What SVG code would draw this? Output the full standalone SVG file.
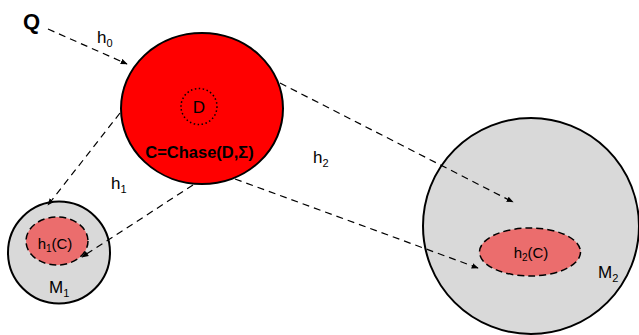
<svg xmlns="http://www.w3.org/2000/svg" width="639" height="335" viewBox="0 0 639 335">
<style>
text{font-family:"Liberation Sans",Arial,sans-serif;fill:#000}
.conn{stroke:#000;stroke-width:1.2;stroke-dasharray:7,5;fill:none}
.outer{stroke:#000;stroke-width:2}
.inner{fill:#eb6d6d;stroke:#000;stroke-width:1.5;stroke-dasharray:7,4}
.lbl{font-size:17px}
.ilbl{font-size:15px}
</style>
<defs>
<marker id="ah" viewBox="0 0 10 10" refX="9" refY="5" markerWidth="7" markerHeight="7" orient="auto" markerUnits="userSpaceOnUse">
<path d="M0,1 L10,5 L0,9 Z" fill="#000"/>
</marker>
</defs>
<rect width="639" height="335" fill="#fff"/>
<g id="M2">
<circle cx="531" cy="226" r="108" fill="#d9d9d9" class="outer"/>
<ellipse cx="530" cy="252" rx="50.5" ry="24" class="inner"/>
<text x="531" y="258" class="ilbl" text-anchor="middle">h<tspan font-size="10" dy="3">2</tspan><tspan dy="-3">(C)</tspan></text>
<text x="598" y="278" class="lbl">M<tspan font-size="11" dy="4">2</tspan></text>
</g>
<g id="M1">
<circle cx="59" cy="252.5" r="51" fill="#d9d9d9" class="outer"/>
<ellipse cx="57" cy="241" rx="31" ry="24" class="inner"/>
<text x="55" y="249" class="ilbl" text-anchor="middle">h<tspan font-size="10" dy="3">1</tspan><tspan dy="-3">(C)</tspan></text>
<text x="49" y="293" class="lbl">M<tspan font-size="11" dy="4">1</tspan></text>
</g>
<g id="C">
<ellipse cx="202" cy="108.5" rx="81" ry="75.5" fill="#ff0000" class="outer"/>
<circle cx="199" cy="106.5" r="18" fill="none" stroke="#000" stroke-width="1.5" stroke-dasharray="1.5,2.5"/>
<text x="199" y="113" font-size="17" text-anchor="middle">D</text>
<text x="199.5" y="158" font-size="16.5" font-weight="bold" text-anchor="middle">C=Chase(D,Σ)</text>
</g>
<g id="Q">
<text x="23" y="29" font-size="22" font-weight="bold">Q</text>
</g>
<g id="connectors">
<line x1="48" y1="29" x2="127" y2="64" class="conn" marker-end="url(#ah)"/>
<line x1="120" y1="113" x2="48" y2="205" class="conn" marker-end="url(#ah)"/>
<line x1="193" y1="185" x2="82" y2="257" class="conn" marker-end="url(#ah)"/>
<line x1="280" y1="83" x2="513" y2="202" class="conn" marker-end="url(#ah)"/>
<line x1="235" y1="179" x2="478" y2="268" class="conn" marker-end="url(#ah)"/>
<text x="97" y="43" class="lbl">h<tspan font-size="11" dy="4">0</tspan></text>
<text x="111" y="189" class="lbl">h<tspan font-size="11" dy="4">1</tspan></text>
<text x="313" y="163" class="lbl">h<tspan font-size="11" dy="4">2</tspan></text>
</g>
</svg>
